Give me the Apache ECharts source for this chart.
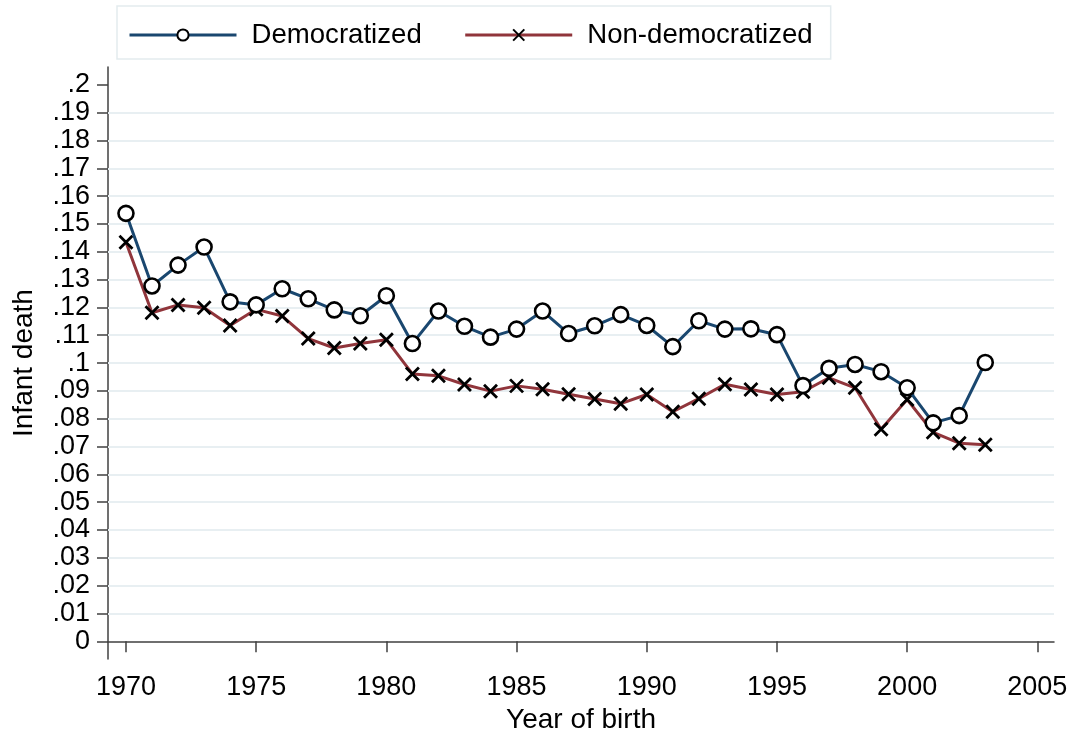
<!DOCTYPE html>
<html>
<head>
<meta charset="utf-8">
<script src="https://cdn.jsdelivr.net/npm/echarts@6/dist/echarts.min.js"></script>
<style>
html,body{margin:0;padding:0;background:#fff;}
#main{width:1076px;height:739px;}
</style>
</head>
<body>
<div id="main"></div>
<script>
var years = [1970,1971,1972,1973,1974,1975,1976,1977,1978,1979,1980,1981,1982,1983,1984,1985,1986,1987,1988,1989,1990,1991,1992,1993,1994,1995,1996,1997,1998,1999,2000,2001,2002,2003];
var democratized = [.1538,.1277,.1352,.1417,.1220,.1209,.1267,.1231,.1191,.1170,.1242,.1070,.1187,.1132,.1093,.1122,.1187,.1106,.1134,.1174,.1135,.1059,.1152,.1122,.1123,.1102,.0919,.0981,.0995,.0969,.0911,.0785,.0811,.1002];
var nonDemocratized = [.1434,.1181,.1209,.1199,.1135,.1193,.1169,.1088,.1054,.1070,.1084,.0961,.0954,.0923,.0899,.0918,.0906,.0888,.0871,.0854,.0887,.0825,.0872,.0924,.0905,.0887,.0897,.0947,.0911,.0762,.0869,.0751,.0712,.0706];
var xTicks = [1970,1975,1980,1985,1990,1995,2000,2005];
var yTicks = [0,.01,.02,.03,.04,.05,.06,.07,.08,.09,.1,.11,.12,.13,.14,.15,.16,.17,.18,.19,.2];
var yGridLines = [.01,.02,.03,.04,.05,.06,.07,.08,.09,.1,.11,.12,.13,.14,.15,.16,.17,.18,.19];

var FONT = 'Liberation Sans, Arial, Helvetica, sans-serif';
function fmtY(v){
  if (Math.abs(v) < 1e-9) return '0';
  var s = (Math.round(v*100)/100).toString();
  return s.replace(/^0\./, '.');
}
var chart = echarts.init(document.getElementById('main'), null, {renderer:'canvas'});
var option = {
  animation: false,
  backgroundColor: '#fff',
  textStyle: {fontFamily: FONT},
  grid: {left: 108, right: 22, top: 67, bottom: 77},
  legend: {
    left: 117, top: 6,
    itemWidth: 107, itemHeight: 14, itemGap: 42,
    padding: [15, 18, 10, 11],
    borderColor: '#e3ebee', borderWidth: 1.5,
    backgroundColor: '#fff',
    lineStyle: {width: 3},
    textStyle: {fontSize: 27.6, color: '#000', fontFamily: FONT, padding: [2,0,0,10]},
    data: ['Democratized', 'Non-democratized']
  },
  xAxis: {
    type: 'value',
    min: 1969.31, max: 2005.64,
    name: 'Year of birth',
    nameLocation: 'middle',
    nameGap: 44,
    nameTextStyle: {fontSize: 28, color: '#000', fontFamily: FONT},
    axisLine: {show: true, lineStyle: {color: '#404040', width: 1.5}},
    axisTick: {show: true, length: 11, customValues: xTicks, lineStyle: {color: '#404040', width: 1.5}},
    axisLabel: {customValues: xTicks, fontSize: 27, color: '#000', margin: 15, fontFamily: FONT, formatter: function(v){return String(v);}},
    splitLine: {show: false}
  },
  yAxis: {
    type: 'value',
    min: -0.0064, max: 0.2064,
    name: 'Infant death',
    nameLocation: 'middle',
    nameGap: 70,
    nameTextStyle: {fontSize: 28, color: '#000', fontFamily: FONT},
    axisLine: {show: true, lineStyle: {color: '#404040', width: 1.5}},
    axisTick: {show: true, length: 11, customValues: yTicks, lineStyle: {color: '#404040', width: 1.5}},
    axisLabel: {customValues: yTicks, fontSize: 27, color: '#000', margin: 18, fontFamily: FONT, formatter: fmtY},
    splitLine: {show: false}
  },
  series: [
    {
      name: 'Democratized',
      type: 'line',
      z: 3,
      data: years.map(function(y,i){return [y, democratized[i]];}),
      symbol: 'circle',
      symbolSize: 15,
      lineStyle: {color: '#1a476f', width: 3},
      itemStyle: {color: '#fff', borderColor: '#000', borderWidth: 2.6},
      markLine: {
        silent: true, symbol: 'none', z: 1,
        label: {show: false},
        lineStyle: {color: '#e8eff2', width: 2.2, type: 'solid'},
        emphasis: {disabled: true},
        data: yGridLines.map(function(v){return {yAxis: v};})
      }
    },
    {
      name: 'Non-democratized',
      type: 'line',
      z: 2,
      data: years.map(function(y,i){return [y, nonDemocratized[i]];}),
      symbol: 'path://M0,0L10,10M0,10L10,0',
      symbolSize: 13,
      lineStyle: {color: '#90353b', width: 3},
      itemStyle: {color: 'rgba(0,0,0,0)', borderColor: '#000', borderWidth: 2.8}
    }
  ]
};
chart.setOption(option);
</script>
</body>
</html>
